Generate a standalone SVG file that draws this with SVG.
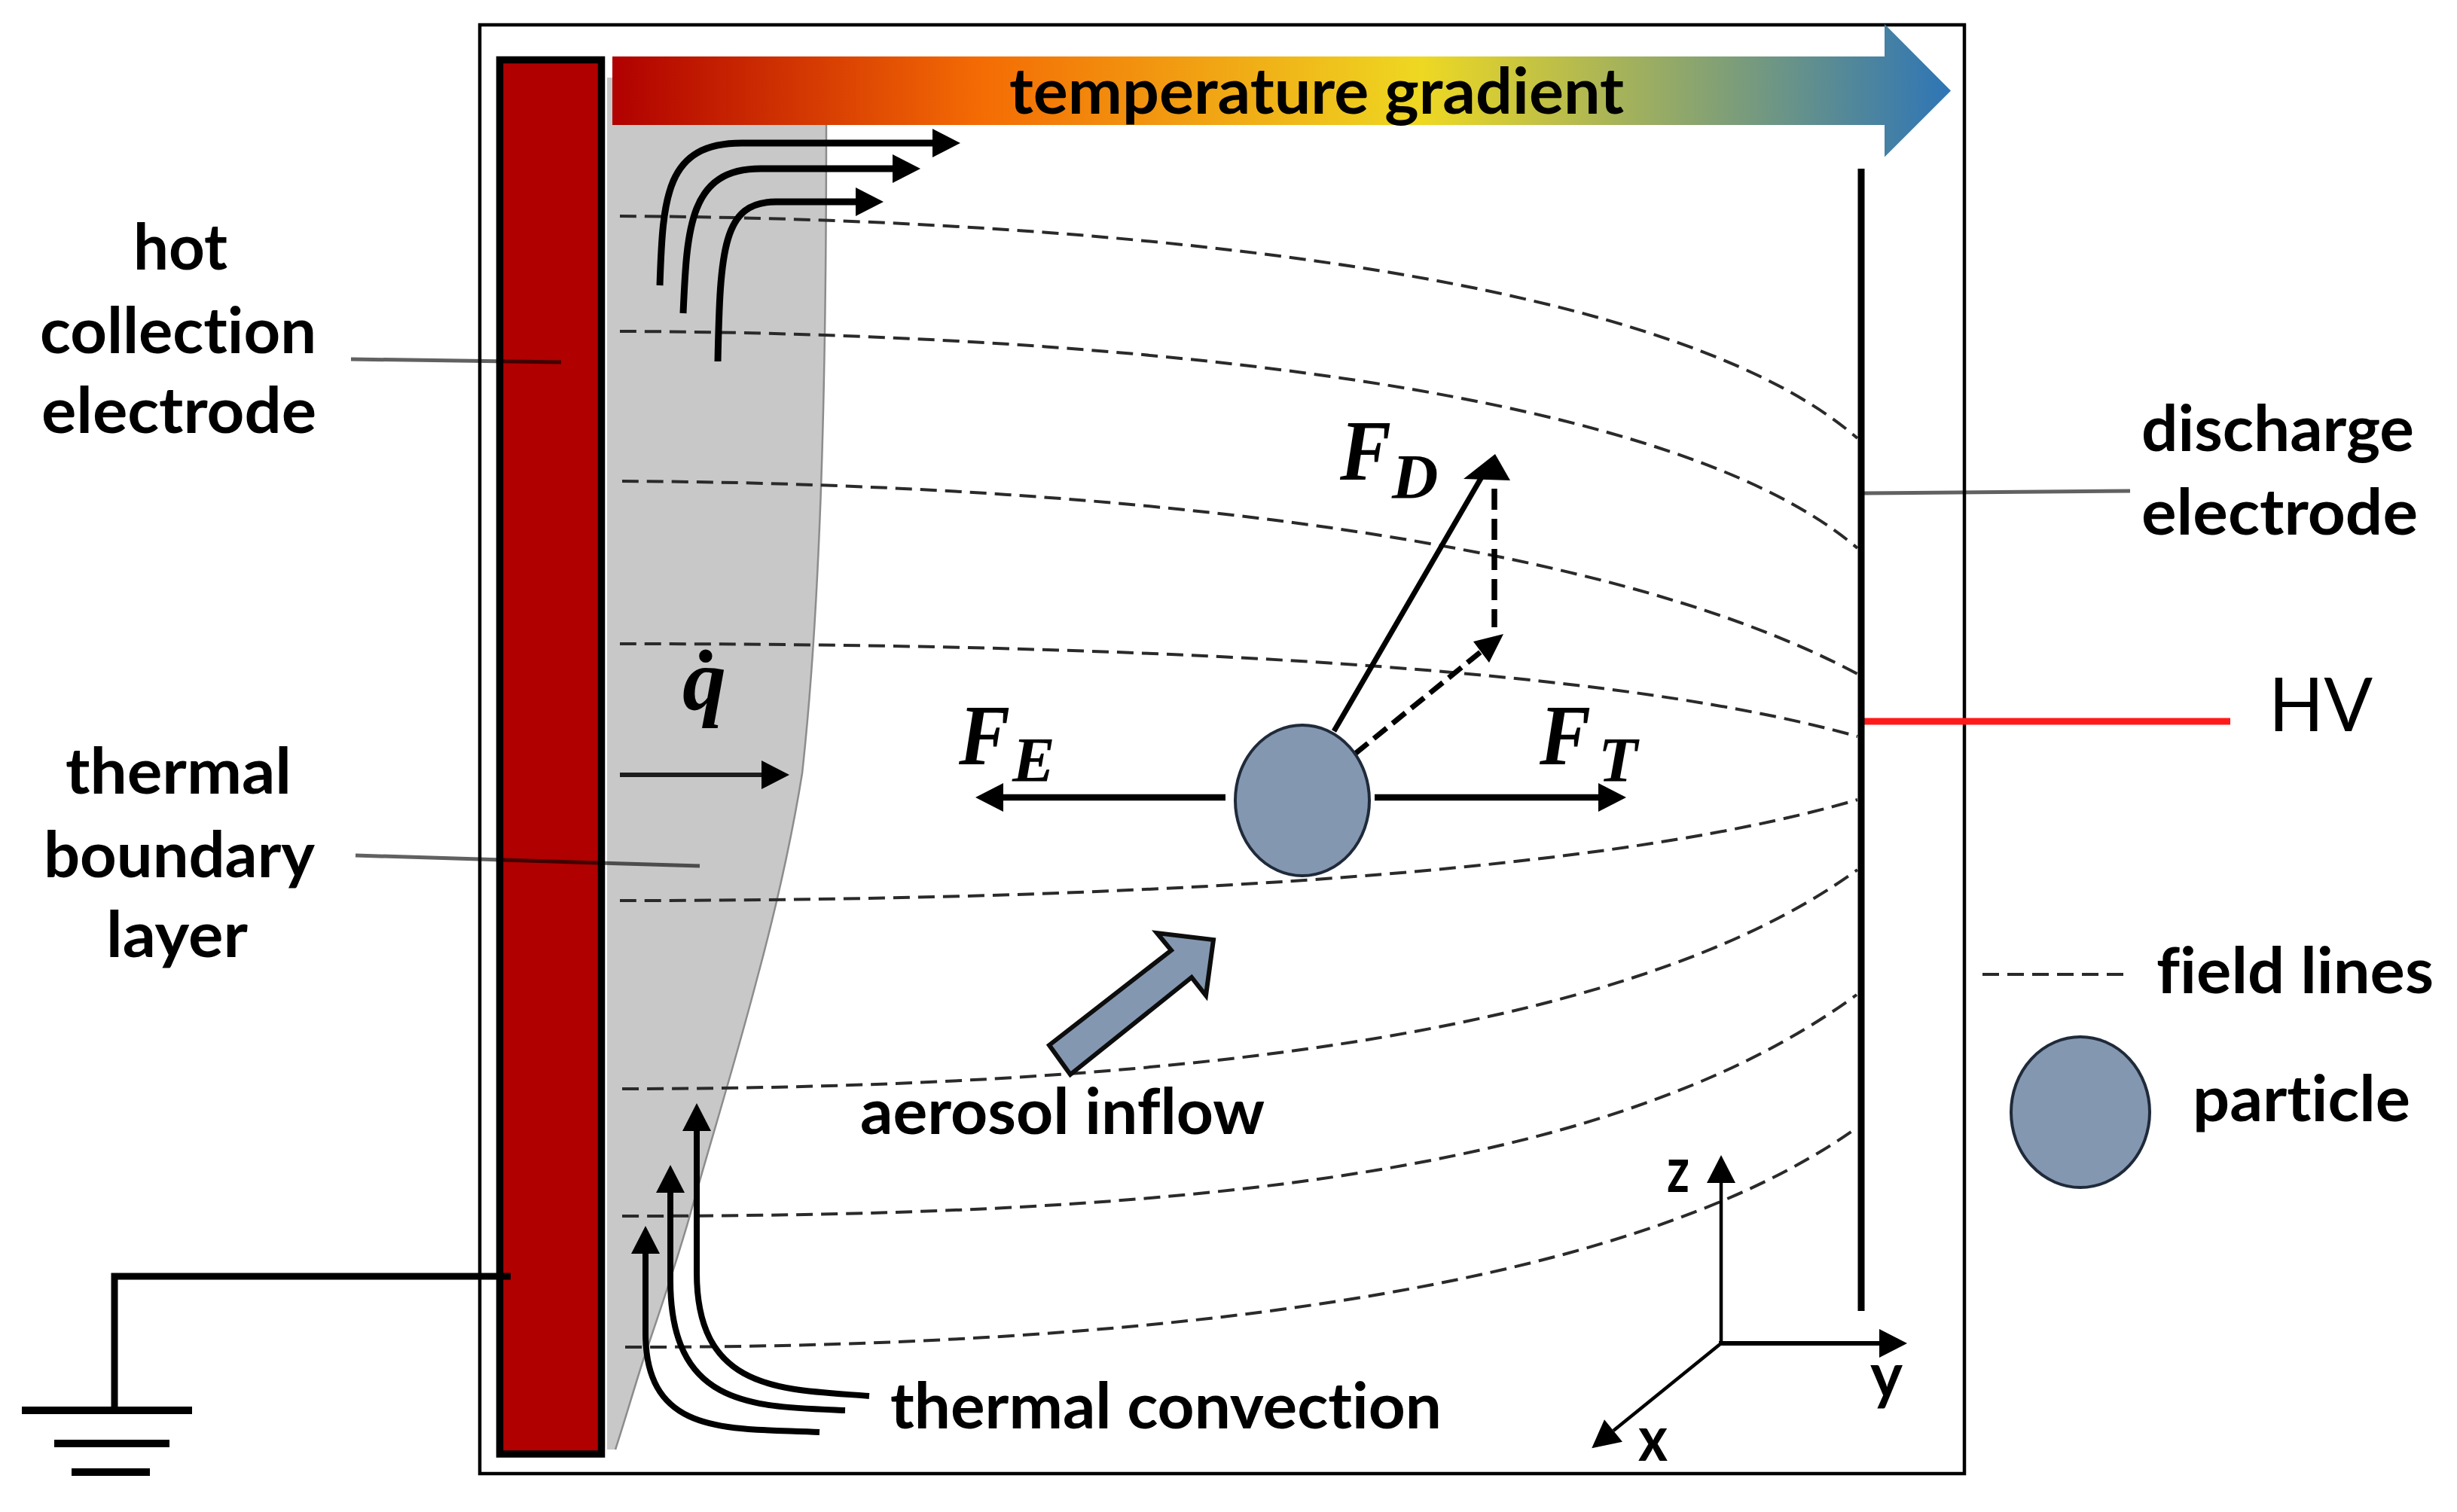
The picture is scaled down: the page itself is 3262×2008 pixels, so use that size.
<svg xmlns="http://www.w3.org/2000/svg" width="3262" height="2008" viewBox="0 0 3262 2008">
<style>
.t{font-family:Lato,"Liberation Sans",sans-serif;font-weight:700;font-size:85px;fill:#000;font-variant-ligatures:none}
.m{font-family:"Liberation Serif",serif;font-weight:700;font-style:italic;fill:#000}
.f{fill:none;stroke:#2a2a2a;stroke-width:4;stroke-dasharray:22 11}
.b{fill:none;stroke:#000}
.l{fill:none;stroke:#000;stroke-opacity:.62;stroke-width:5}
.p{fill:#8497b0;stroke:#1f2a3a;stroke-width:4}
</style>
<defs>
<linearGradient id="g" gradientUnits="userSpaceOnUse" x1="813" y1="0" x2="2590" y2="0">
<stop offset="0" stop-color="#b00000"/><stop offset=".274" stop-color="#f46b04"/><stop offset=".604" stop-color="#eed822"/><stop offset="1" stop-color="#2e75b6"/>
</linearGradient>
<marker id="a" markerUnits="userSpaceOnUse" markerWidth="38" markerHeight="40" viewBox="0 0 38 40" refX="0" refY="20" orient="auto" overflow="visible"><path d="M0 1L37 20L0 39Z" fill="#000"/></marker>
</defs>
<rect width="3262" height="2008" fill="#fff"/>
<rect id="frame" x="637" y="33" width="1971" height="1924" fill="none" stroke="#000" stroke-width="4.5"/>
<g id="boundary-layer"><path d="M806 103H1097V166C1097 500 1090 800 1065 1027C1050 1120 1032 1200 1005 1300C975 1415 945 1510 916 1614C897 1680 875 1745 854 1806C840 1850 830 1885 817 1925H806Z" fill="#c8c8c8"/>
<path d="M1097 166C1097 500 1090 800 1065 1027C1050 1120 1032 1200 1005 1300C975 1415 945 1510 916 1614C897 1680 875 1745 854 1806C840 1850 830 1885 817 1925" fill="none" stroke="#8c8c8c" stroke-width="2.500"/></g>
<g id="connectors">
<path class="f" d="M823 287C1400 290 2200 350 2466 582"/>
<path class="f" d="M823 440C1400 442 2200 500 2466 728"/>
<path class="f" d="M826 639C1400 642 2100 700 2466 895"/>
<path class="f" d="M823 855C1400 855 2100 875 2466 978"/>
<path class="f" d="M823 1196C1400 1196 2100 1170 2466 1062"/>
<path class="f" d="M826 1446C1500 1445 2150 1385 2466 1155"/>
<path class="f" d="M826 1615C1500 1615 2120 1575 2465 1321"/>
<path class="f" d="M830 1789C1500 1790 2150 1720 2462 1500"/>
<path class="l" d="M2475 655L2828 652"/>
<path class="b" stroke-width="6" stroke-opacity=".85" d="M823 1029H1011" marker-end="url(#a)"/>
<path d="M2475 958H2961" fill="none" stroke="#ff1a1a" stroke-width="9"/>
<path class="b" stroke-width="9" d="M876 379C880 260 884 190 985 190H1238" marker-end="url(#a)"/>
<path class="b" stroke-width="9" d="M907 416C912 300 916 224 1010 224H1185" marker-end="url(#a)"/>
<path class="b" stroke-width="9" d="M953 480C956 330 960 268 1030 268H1136" marker-end="url(#a)"/>
<path class="b" stroke-width="8" d="M1154 1854C1040 1845 925 1850 925 1690V1502" marker-end="url(#a)"/>
<path class="b" stroke-width="8" d="M1122 1873C1000 1868 890 1870 890 1700V1584" marker-end="url(#a)"/>
<path class="b" stroke-width="8" d="M1088 1902C970 1896 857 1910 857 1770V1665" marker-end="url(#a)"/>
<path class="b" stroke-width="8.500" d="M1627 1059H1332" marker-end="url(#a)"/>
<path class="b" stroke-width="8.500" d="M1825 1059H2122" marker-end="url(#a)"/>
<path class="b" stroke-width="7" d="M1771 971L1968 632"/>
<path d="M1985 603L2005 638L1943 636Z"/>
<path class="b" stroke-width="7.500" stroke-dasharray="28 12" d="M1984 649V833"/>
<path class="b" stroke-width="7" stroke-dasharray="22 10" d="M1799 1001L1968 864"/>
<path d="M1996 842L1956 852L1977 880Z"/>
<path class="b" stroke-width="4.500" d="M2285 1784V1571" marker-end="url(#a)"/>
<path class="b" stroke-width="6" d="M2282 1784H2495" marker-end="url(#a)"/>
<path class="b" stroke-width="4.500" d="M2285 1784L2142 1900" marker-end="url(#a)"/>
</g>
<g id="hot-electrode"><rect x="663.500" y="79.500" width="135" height="1851.500" fill="#b00000" stroke="#000" stroke-width="9.500"/></g>
<g id="leaders"><path class="l" d="M466 477L745 481"/><path class="l" d="M472 1136L700 1143L929 1150"/></g>
<g id="temperature-arrow"><path d="M813 75H2502V32L2590 120.500L2502 208.500V166H813Z" fill="url(#g)"/>
<text class="t" x="1340" y="151" textLength="816" lengthAdjust="spacingAndGlyphs">temperature gradient</text></g>
<g id="ground"><path class="b" stroke-width="9" d="M678 1695H152V1868"/><rect x="29" y="1868" width="226" height="10"/><rect x="72" y="1912" width="153" height="10"/><rect x="95" y="1950" width="104" height="10"/></g>
<g id="discharge-electrode"><path class="b" stroke-width="9" d="M2471 224V1741"/></g>
<g id="particle"><ellipse class="p" cx="1729" cy="1063" rx="89" ry="100"/></g>
<g id="aerosol-arrow"><path class="p" style="stroke:#0d0d0d;stroke-width:6" d="M1611 1248L1601 1322L1582 1298L1421 1427L1393 1388L1555 1262L1536 1239Z"/><text class="t" x="1142" y="1506" textLength="537" lengthAdjust="spacingAndGlyphs">aerosol inflow</text></g>
<g id="label-hot"><text class="t" x="177" y="358" textLength="125" lengthAdjust="spacingAndGlyphs">hot</text><text class="t" x="53" y="469" textLength="367" lengthAdjust="spacingAndGlyphs">collection</text><text class="t" x="55" y="575" textLength="365" lengthAdjust="spacingAndGlyphs">electrode</text></g>
<g id="label-boundary"><text class="t" x="87" y="1054" textLength="300" lengthAdjust="spacingAndGlyphs">thermal</text><text class="t" x="58" y="1165" textLength="360" lengthAdjust="spacingAndGlyphs">boundary</text><text class="t" x="141" y="1271" textLength="188" lengthAdjust="spacingAndGlyphs">layer</text></g>
<g id="label-discharge"><text class="t" x="2843" y="599" textLength="362" lengthAdjust="spacingAndGlyphs">discharge</text><text class="t" x="2843" y="710" textLength="367" lengthAdjust="spacingAndGlyphs">electrode</text></g>
<g id="label-hv"><text x="3012" y="971" font-family="Lato,'Liberation Sans',sans-serif" font-size="98" textLength="138" lengthAdjust="spacingAndGlyphs">HV</text></g>
<g id="legend"><path class="f" d="M2632 1294H2829"/><text class="t" x="2863" y="1319" textLength="368" lengthAdjust="spacingAndGlyphs">field lines</text><ellipse class="p" cx="2762" cy="1477" rx="92" ry="100"/><text class="t" x="2911" y="1489" textLength="289" lengthAdjust="spacingAndGlyphs">particle</text></g>
<text class="t" x="1182" y="1897" textLength="732" lengthAdjust="spacingAndGlyphs">thermal convection</text>
<g id="axes-labels"><text class="t" x="2213" y="1583" font-size="80" textLength="30" lengthAdjust="spacingAndGlyphs">z</text><text class="t" x="2483" y="1856" textLength="43" lengthAdjust="spacingAndGlyphs">y</text><text class="t" x="2175" y="1940" textLength="39" lengthAdjust="spacingAndGlyphs">x</text></g>
<g id="math-labels">
<text class="m" x="906" y="942" font-size="116">q̇</text>
<text class="m" x="1779" y="637" font-size="114" textLength="68" lengthAdjust="spacingAndGlyphs">F</text><text class="m" x="1848" y="662" font-size="85">D</text>
<text class="m" x="1273" y="1015" font-size="114" textLength="68" lengthAdjust="spacingAndGlyphs">F</text><text class="m" x="1344" y="1038" font-size="85">E</text>
<text class="m" x="2044" y="1015" font-size="114" textLength="68" lengthAdjust="spacingAndGlyphs">F</text><text class="m" x="2122" y="1038" font-size="85">T</text>
</g>
</svg>
